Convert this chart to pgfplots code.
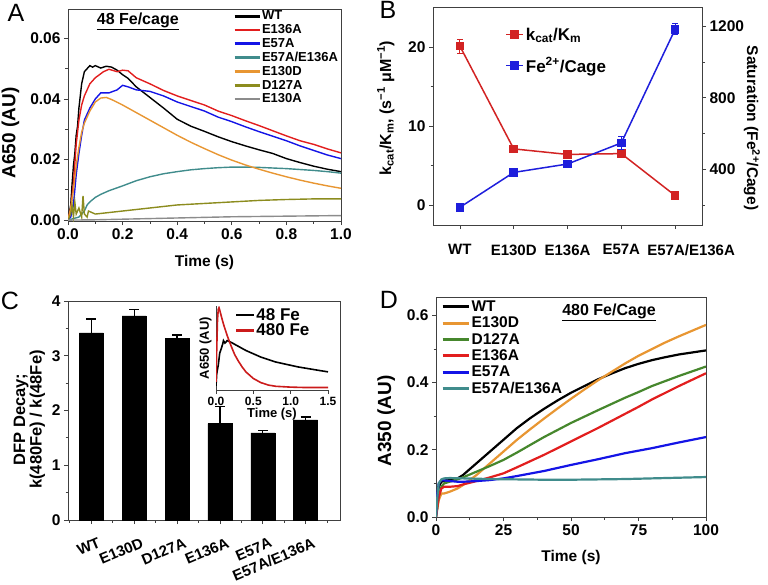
\documentclass[border=0pt]{standalone}
\usepackage{pgfplots}
\pgfplotsset{compat=1.18}
\usepackage{fontspec}
\setmainfont{Liberation Sans}
\newcommand\fs[1]{\fontsize{#1}{#1}\selectfont\bfseries}
\definecolor{cRed}{RGB}{226,30,30}
\definecolor{cBlue}{RGB}{20,20,230}
\definecolor{cTeal}{RGB}{64,140,140}
\definecolor{cOrange}{RGB}{232,150,50}
\definecolor{cOlive}{RGB}{140,140,30}
\definecolor{cGrey}{RGB}{140,140,140}
\definecolor{cGreen}{RGB}{70,135,45}
\definecolor{bRed}{RGB}{210,35,35}
\definecolor{bBlue}{RGB}{30,30,220}
\pgfplotsset{
 base/.style={scale only axis, anchor=south west,
   axis line style={black!75,line width=0.9pt},
   tick style={black!75,line width=0.8pt},
   tick align=outside, major tick length=4pt, minor tick length=2.5pt,
   xtick pos=left, ytick pos=left,
   /pgf/number format/assume math mode=true,
   /pgf/number format/1000 sep={},
   ticklabel style={font=\fs{15.5}}, label style={font=\fs{15.5}}},
}
\begin{document}
\begin{tikzpicture}
\path[use as bounding box] (0pt,0pt) rectangle (768pt,-584pt);
% ---------------- Panel A ----------------
\begin{axis}[base, at={(68pt,-221pt)}, width=273pt, height=212pt,
  xmin=0, xmax=1, ymin=-0.0003, ymax=0.0697,
  xtick={0,0.2,0.4,0.6,0.8,1.0}, minor xtick={0.1,0.3,0.5,0.7,0.9},
  ytick={0,0.02,0.04,0.06}, minor ytick={0.01,0.03,0.05},
  scaled y ticks=false,
  xticklabel style={/pgf/number format/.cd,fixed,fixed zerofill,precision=1},
  yticklabel style={/pgf/number format/.cd,fixed,fixed zerofill,precision=2},
  xlabel={Time (s)}, ylabel={A650 (AU)},
  xlabel style={yshift=-9pt}, ylabel style={font=\fs{19}, yshift=4pt, xshift=-18pt},
  legend style={at={(0.605,0.997)}, anchor=north west, draw=none, fill=none,
    font=\fs{13}, row sep=0.8pt, inner sep=0pt, nodes={inner sep=1.2pt}},
  legend cell align=left,
  legend image code/.code={\draw[#1, line width=2.5pt] (0pt,0pt) -- (25pt,0pt);},
  every axis plot/.append style={line width=1.4pt}]
\addplot[black] coordinates {(0,0) (0.01,0.005) (0.015,0.012) (0.02,0.018) (0.025,0.022) (0.03,0.028) (0.035,0.031) (0.04,0.037) (0.05,0.045) (0.06,0.049) (0.07,0.05) (0.08,0.051) (0.09,0.0505) (0.1,0.051) (0.12,0.0502) (0.14,0.0508) (0.16,0.0505) (0.18,0.0495) (0.2,0.048) (0.22,0.0468) (0.25,0.044) (0.3,0.0405) (0.35,0.037) (0.4,0.0333) (0.45,0.031) (0.5,0.0293) (0.55,0.0275) (0.6,0.0259) (0.65,0.0245) (0.7,0.0232) (0.75,0.022) (0.8,0.0203) (0.85,0.019) (0.9,0.0178) (0.95,0.0168) (1.0,0.016)};
\addlegendentry{WT}
\addplot[cRed] coordinates {(0,0) (0.01,0.004) (0.02,0.012) (0.03,0.025) (0.04,0.033) (0.05,0.038) (0.06,0.041) (0.08,0.045) (0.1,0.047) (0.13,0.049) (0.15,0.0498) (0.18,0.049) (0.2,0.0495) (0.22,0.0493) (0.25,0.047) (0.3,0.045) (0.35,0.0428) (0.4,0.041) (0.45,0.0395) (0.5,0.038) (0.55,0.036) (0.6,0.0345) (0.65,0.0328) (0.7,0.0312) (0.75,0.0295) (0.8,0.0278) (0.85,0.0262) (0.9,0.025) (0.95,0.0235) (1.0,0.0222)};
\addlegendentry{E136A}
\addplot[cBlue] coordinates {(0,0) (0.01,0.001) (0.02,0.005) (0.03,0.015) (0.04,0.022) (0.05,0.028) (0.06,0.033) (0.08,0.037) (0.1,0.04) (0.12,0.042) (0.15,0.042) (0.18,0.043) (0.2,0.0445) (0.22,0.044) (0.25,0.043) (0.3,0.0425) (0.35,0.041) (0.4,0.039) (0.45,0.0375) (0.5,0.036) (0.55,0.034) (0.6,0.0325) (0.65,0.0308) (0.7,0.0292) (0.75,0.0277) (0.8,0.0262) (0.85,0.0245) (0.9,0.023) (0.95,0.0215) (1.0,0.0203)};
\addlegendentry{E57A}
\addplot[cTeal] coordinates {(0,0) (0.04,0.001) (0.05,0.002) (0.06,0.003) (0.07,0.005) (0.08,0.006) (0.1,0.0075) (0.12,0.0085) (0.15,0.0097) (0.2,0.0113) (0.25,0.013) (0.3,0.0143) (0.35,0.0153) (0.4,0.016) (0.45,0.0166) (0.5,0.017) (0.55,0.0173) (0.6,0.0175) (0.65,0.0175) (0.7,0.0174) (0.75,0.0172) (0.8,0.017) (0.85,0.0167) (0.9,0.0164) (0.95,0.016) (1.0,0.0155)};
\addlegendentry{E57A/E136A}
\addplot[cOrange] coordinates {(0,0) (0.01,0.004) (0.02,0.01) (0.03,0.018) (0.04,0.024) (0.05,0.029) (0.06,0.032) (0.08,0.036) (0.1,0.039) (0.12,0.0403) (0.14,0.0405) (0.16,0.0398) (0.2,0.038) (0.25,0.0355) (0.3,0.033) (0.35,0.0305) (0.4,0.028) (0.45,0.0257) (0.5,0.0236) (0.55,0.0216) (0.6,0.0198) (0.65,0.0182) (0.7,0.0168) (0.75,0.0155) (0.8,0.0143) (0.85,0.0132) (0.9,0.0122) (0.95,0.0113) (1.0,0.0105)};
\addlegendentry{E130D}
\addplot[cOlive] coordinates {(0,0) (0.01,0.002) (0.015,0.005) (0.02,0.001) (0.025,0.006) (0.03,0.002) (0.04,0.004) (0.05,0.001) (0.055,0.008) (0.06,0.002) (0.07,0.001) (0.075,0.003) (0.1,0.002) (0.15,0.0025) (0.2,0.003) (0.3,0.004) (0.4,0.005) (0.5,0.0055) (0.6,0.006) (0.7,0.0065) (0.8,0.0068) (0.9,0.007) (1.0,0.007)};
\addlegendentry{D127A}
\addplot[cGrey] coordinates {(0,0) (0.1,0.0001) (0.2,0.0003) (0.3,0.0005) (0.4,0.0007) (0.5,0.0009) (0.6,0.0011) (0.7,0.0012) (0.8,0.0013) (0.9,0.0014) (1.0,0.0015)};
\addlegendentry{E130A}
\end{axis}
% ---------------- Panel B ----------------
\begin{axis}[base, at={(433pt,-225pt)}, width=269pt, height=218pt,
  xmin=-0.5, xmax=4.5, ymin=-2.53, ymax=25.05,
  xtick={0,1,2,3,4}, xticklabels={WT,E130D,E136A,E57A,\hspace*{32pt}E57A/E136A},
  xticklabel style={font=\fs{15}, yshift=-12pt},
  ytick={0,10,20}, minor ytick={5,15},
  ylabel={k\textsubscript{cat}/K\textsubscript{m}, (s\textsuperscript{−1} μM\textsuperscript{−1})},
  ylabel style={font=\fs{16}, yshift=7pt, xshift=8pt},
  every axis plot/.append style={line width=1.5pt}]
\addplot[bRed, mark=square*, mark size=3.5pt,
  error bars/.cd, y dir=both, y explicit,
  error bar style={line width=1pt}, error mark options={rotate=90, mark size=3pt, line width=1pt}]
  coordinates {(0,20.1) +- (0,0.9) (1,7.1) +- (0,0.3) (2,6.4) +- (0,0.35) (3,6.5) +- (0,0.35) (4,1.2) +- (0,0.3)};
\end{axis}
\begin{axis}[base, at={(433pt,-225pt)}, width=269pt, height=218pt,
  xmin=-0.5, xmax=4.5, ymin=89, ymax=1308,
  axis x line=none, axis y line*=right, ytick pos=right,
  ytick={400,800,1200}, minor ytick={200,600,1000},
  ylabel={Saturation (Fe\textsuperscript{2+}/Cage)},
  ylabel style={rotate=180, font=\fs{15.5}, yshift=-7pt, xshift=12pt},
  legend style={at={(0.268,0.915)}, anchor=north west, draw=none, fill=none,
    font=\fs{17}, row sep=12pt, inner sep=0pt},
  legend cell align=left,
  every axis plot/.append style={line width=1.5pt}]
\addlegendimage{bRed, mark=square*, mark size=3.5pt, line width=1.5pt}
\addlegendentry{k\textsubscript{cat}/K\textsubscript{m}}
\addplot[bBlue, mark=square*, mark size=3.5pt,
  error bars/.cd, y dir=both, y explicit,
  error bar style={line width=1pt}, error mark options={rotate=90, mark size=3pt, line width=1pt}]
  coordinates {(0,188) +- (0,15) (1,383) +- (0,15) (2,430) +- (0,20) (3,548) +- (0,35) (4,1183) +- (0,30)};
\addlegendentry{Fe\textsuperscript{2+}/Cage}
\end{axis}
% ---------------- Panel C ----------------
\begin{axis}[base, at={(68pt,-520pt)}, width=272pt, height=219pt,
  xmin=0.457, xmax=6.8, ymin=0, ymax=4,
  xtick={1,2,3,4,5,6}, minor xtick={0.5,1.5,2.5,3.5,4.5,5.5,6.5},
  xticklabels={WT,E130D,D127A,E136A,E57A,E57A/E136A},
  xticklabel style={rotate=23, anchor=north east, font=\fs{15}, xshift=4pt, yshift=-11pt},
  ytick={0,1,2,3,4}, minor ytick={0.5,1.5,2.5,3.5},
  ylabel={DFP Decay;\\k(480Fe) / k(48Fe)}, ylabel style={align=center, font=\fs{16.5}, xshift=-9pt}]
\addplot[ybar, bar width=24pt, fill=black, draw=black,
  error bars/.cd, y dir=plus, y explicit,
  error bar style={black, line width=1.3pt}, error mark options={black, rotate=90, mark size=5pt, line width=1.3pt}]
  coordinates {(1,3.42) +- (0,0.25) (2,3.73) +- (0,0.12) (3,3.32) +- (0,0.06) (4,1.76) +- (0,0.31) (5,1.59) +- (0,0.045) (6,1.83) +- (0,0.05)};
\end{axis}
% inset
\begin{axis}[base, at={(216pt,-390pt)}, width=112pt, height=84pt,
  xmin=0, xmax=1.5, ymin=0, ymax=1.02,
  axis lines*=left, ytick=\empty,
  xtick={0,0.5,1,1.5},
  xticklabel style={font=\fs{12}, /pgf/number format/.cd,fixed,fixed zerofill,precision=1},
  xlabel={Time (s)}, ylabel={A650 (AU)}, label style={font=\fs{13}},
  xlabel style={yshift=5pt}, ylabel style={yshift=-3pt},
  legend style={at={(0.17,0.985)}, anchor=north west, draw=none, fill=none,
    font=\fs{17}, row sep=0pt, inner sep=0pt, nodes={inner sep=1pt}},
  legend cell align=left,
  legend image code/.code={\draw[#1, line width=2.2pt] (0pt,0pt) -- (18pt,0pt);},
  every axis plot/.append style={line width=1.6pt}]
\addplot[black] coordinates {(0,0.05) (0.01,0.2) (0.03,0.3) (0.05,0.45) (0.07,0.5) (0.09,0.56) (0.1,0.6) (0.12,0.57) (0.15,0.6) (0.2,0.58) (0.3,0.53) (0.4,0.48) (0.5,0.44) (0.6,0.4) (0.7,0.37) (0.8,0.34) (0.9,0.32) (1.0,0.3) (1.1,0.28) (1.2,0.265) (1.3,0.25) (1.4,0.235) (1.5,0.22)};
\addlegendentry{48 Fe}
\addplot[cRed!90!black] coordinates {(0,0.1) (0.01,0.5) (0.02,0.85) (0.03,0.98) (0.04,1.0) (0.05,0.97) (0.07,0.9) (0.1,0.8) (0.15,0.66) (0.2,0.54) (0.25,0.43) (0.3,0.35) (0.35,0.28) (0.4,0.22) (0.5,0.14) (0.6,0.09) (0.7,0.06) (0.8,0.045) (0.9,0.04) (1.0,0.035) (1.2,0.03) (1.5,0.03)};
\addlegendentry{480 Fe}
\end{axis}
% ---------------- Panel D ----------------
\begin{axis}[base, at={(436pt,-517pt)}, width=270pt, height=220pt,
  xmin=0, xmax=100, ymin=0, ymax=0.655,
  xtick={0,25,50,75,100}, minor xtick={12.5,37.5,62.5,87.5},
  ytick={0,0.2,0.4,0.6}, minor ytick={0.1,0.3,0.5},
  yticklabel style={/pgf/number format/.cd,fixed,fixed zerofill,precision=1},
  xlabel={Time (s)}, ylabel={A350 (AU)},
  xlabel style={yshift=-8pt}, ylabel style={font=\fs{19}, yshift=5pt, xshift=-14pt},
  legend style={at={(0.018,0.99)}, anchor=north west, draw=none, fill=none,
    font=\fs{15.5}, row sep=1pt, inner sep=0pt, nodes={inner sep=1.5pt}},
  legend cell align=left,
  legend image code/.code={\draw[#1, line width=3pt] (0pt,0pt) -- (26pt,0pt);},
  every axis plot/.append style={line width=2.2pt}]
\addplot[black] coordinates {(0,0) (0.5,0.06) (1,0.09) (2,0.105) (4,0.11) (6,0.112) (8,0.115) (10,0.125) (15,0.16) (20,0.195) (25,0.23) (30,0.265) (35,0.295) (40,0.322) (45,0.347) (50,0.37) (55,0.39) (60,0.41) (65,0.427) (70,0.443) (75,0.456) (80,0.467) (85,0.476) (90,0.484) (95,0.49) (100,0.496)};
\addlegendentry{WT}
\addplot[cOrange] coordinates {(0,0) (1,0.05) (2,0.07) (3,0.07) (5,0.075) (8,0.085) (10,0.095) (15,0.125) (20,0.16) (25,0.195) (30,0.23) (35,0.262) (40,0.293) (45,0.323) (50,0.352) (55,0.38) (60,0.407) (65,0.432) (70,0.457) (75,0.48) (80,0.5) (85,0.52) (90,0.538) (95,0.555) (100,0.572)};
\addlegendentry{E130D}
\addplot[cGreen] coordinates {(0,0) (1,0.06) (2,0.09) (3,0.1) (5,0.105) (8,0.112) (10,0.118) (15,0.135) (20,0.152) (25,0.17) (30,0.192) (40,0.238) (50,0.28) (60,0.318) (70,0.355) (75,0.372) (80,0.39) (90,0.42) (100,0.448)};
\addlegendentry{D127A}
\addplot[cRed] coordinates {(0,0) (1,0.06) (2,0.085) (3,0.09) (5,0.09) (8,0.092) (10,0.097) (15,0.107) (20,0.118) (25,0.13) (30,0.148) (40,0.185) (50,0.225) (60,0.265) (70,0.307) (75,0.328) (80,0.35) (90,0.39) (100,0.428)};
\addlegendentry{E136A}
\addplot[cBlue] coordinates {(0,0) (0.5,0.07) (1,0.1) (2,0.11) (4,0.108) (8,0.105) (10,0.105) (15,0.107) (20,0.11) (25,0.115) (30,0.122) (40,0.137) (50,0.155) (60,0.172) (70,0.19) (80,0.205) (90,0.222) (100,0.238)};
\addlegendentry{E57A}
\addplot[cTeal] coordinates {(0,0) (0.5,0.06) (1,0.1) (2,0.112) (3,0.115) (5,0.116) (10,0.115) (20,0.113) (30,0.112) (40,0.111) (50,0.111) (60,0.112) (70,0.113) (80,0.115) (90,0.117) (100,0.119)};
\addlegendentry{E57A/E136A}
\end{axis}
% titles and panel letters
\node[font=\fs{16}] at (137.8pt,-21pt) {\underline{48 Fe/cage}};
\node[font=\fs{16}] at (609pt,-312pt) {\underline{480 Fe/Cage}};
\node[font=\fontsize{25}{25}\selectfont] at (16pt,-13pt) {A};
\node[font=\fontsize{25}{25}\selectfont] at (388pt,-10pt) {B};
\node[font=\fontsize{25}{25}\selectfont] at (10pt,-301pt) {C};
\node[font=\fontsize{25}{25}\selectfont] at (389pt,-300pt) {D};
\end{tikzpicture}
\end{document}
